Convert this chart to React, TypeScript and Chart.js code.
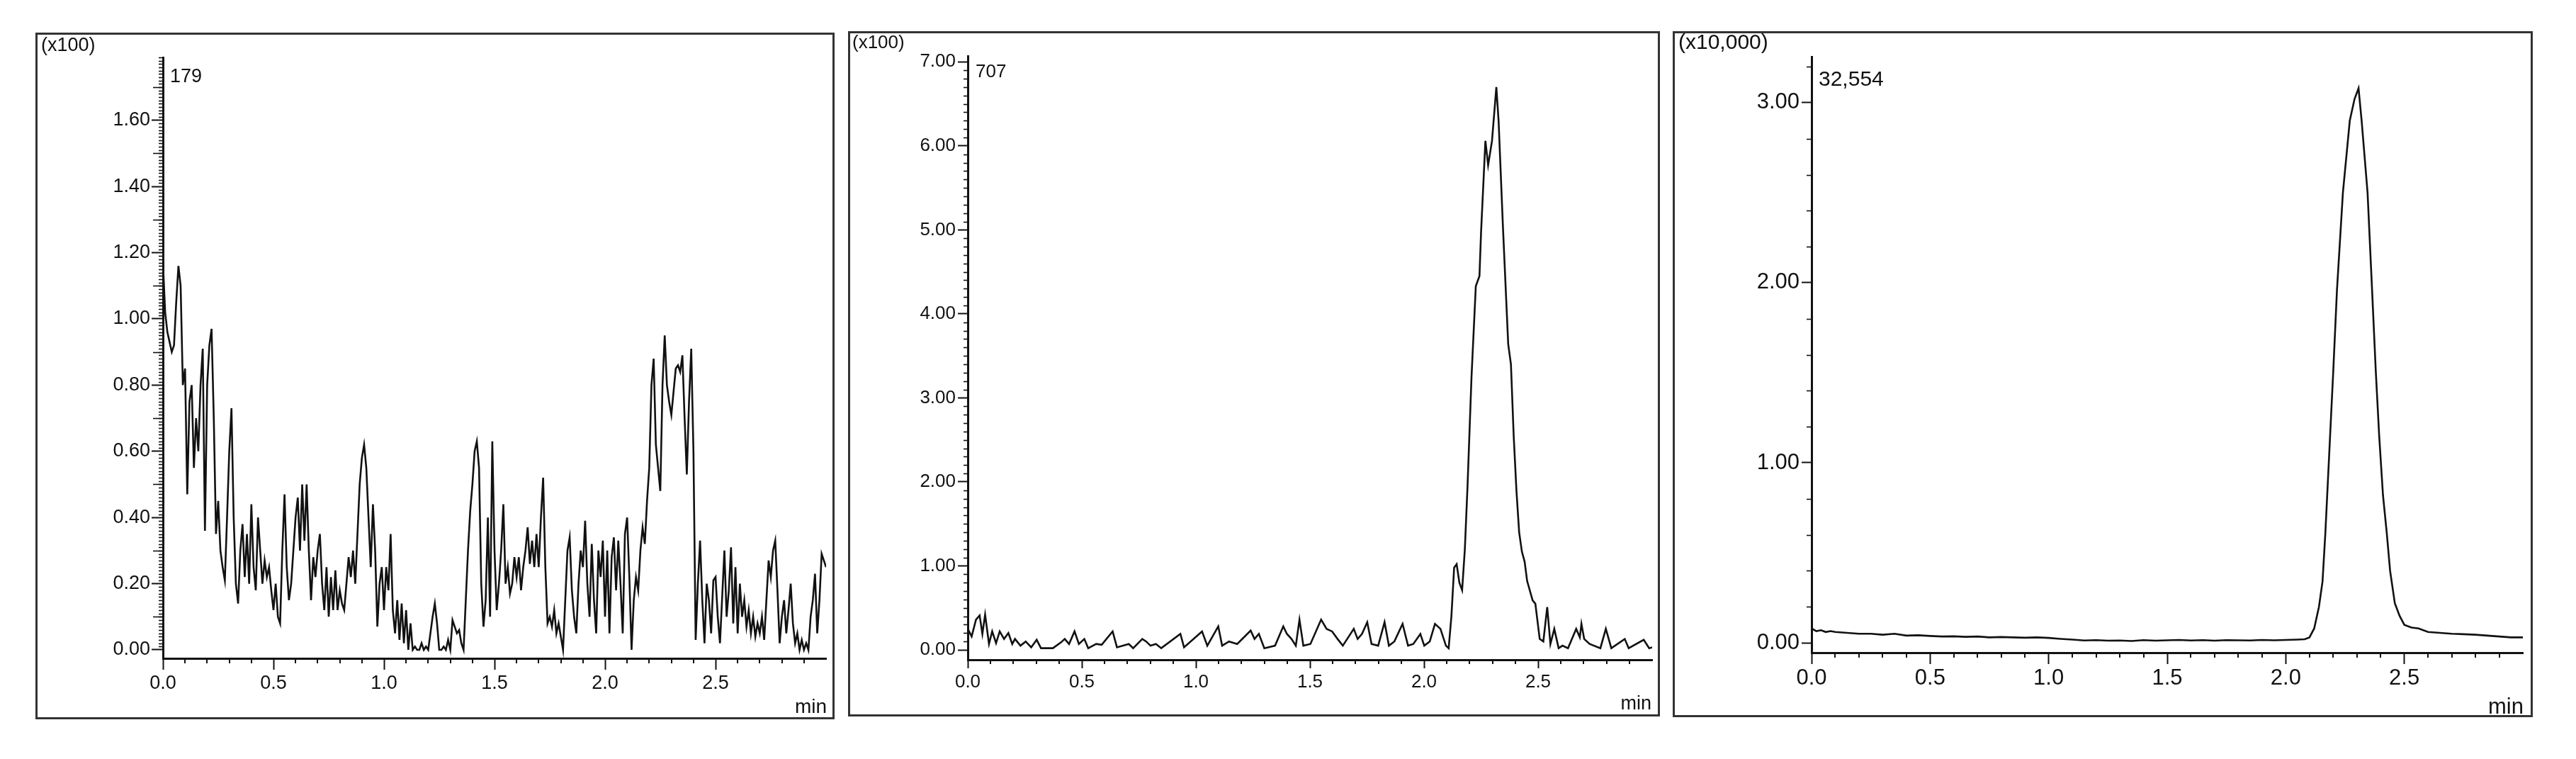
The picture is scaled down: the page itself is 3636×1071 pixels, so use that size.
import React, { useEffect, useRef } from "react";
import { Chart, registerables } from "chart.js";

Chart.register(...registerables);

const FONT = '"Liberation Sans", Arial, Helvetica, sans-serif';
const INK = "#111111";
const FRAME = "#333333";

// ---------- shared axis ticks ----------
const X_TICKS = [0, 0.5, 1.0, 1.5, 2.0, 2.5];

// ---------- panel 1 (x100), max 179 ----------
const P1_SCALE_LABEL = "(x100)";
const P1_MAX_LABEL = "179";
const P1_Y_TICKS = [0, 0.2, 0.4, 0.6, 0.8, 1.0, 1.2, 1.4, 1.6];
const P1_STEP_MIN = 0.01;
const P1_VALUES = [
  1.17, 1.02, 0.96, 0.93, 0.90, 0.92, 1.05, 1.16, 1.10, 0.80,
  0.85, 0.47, 0.75, 0.80, 0.55, 0.70, 0.60, 0.80, 0.91, 0.36,
  0.80, 0.92, 0.97, 0.70, 0.35, 0.45, 0.30, 0.25, 0.21, 0.40,
  0.60, 0.73, 0.40, 0.20, 0.14, 0.30, 0.38, 0.22, 0.35, 0.20,
  0.44, 0.25, 0.18, 0.40, 0.30, 0.20, 0.27, 0.22, 0.25, 0.18,
  0.12, 0.20, 0.10, 0.08, 0.30, 0.47, 0.25, 0.15, 0.20, 0.30,
  0.40, 0.46, 0.30, 0.50, 0.33, 0.50, 0.30, 0.15, 0.28, 0.22,
  0.30, 0.35, 0.20, 0.12, 0.25, 0.10, 0.22, 0.12, 0.24, 0.12,
  0.18, 0.14, 0.12, 0.20, 0.28, 0.22, 0.30, 0.20, 0.35, 0.50,
  0.58, 0.62, 0.55, 0.40, 0.25, 0.44, 0.30, 0.07, 0.20, 0.25,
  0.12, 0.25, 0.18, 0.35, 0.12, 0.05, 0.15, 0.03, 0.14, 0.02,
  0.12, 0.00, 0.08, 0.00, 0.01, 0.00, 0.00, 0.02, 0.00, 0.01,
  0.00, 0.05, 0.10, 0.14, 0.08, 0.00, 0.00, 0.01, 0.00, 0.03,
  0.00, 0.09, 0.07, 0.05, 0.06, 0.02, 0.00, 0.15, 0.30, 0.42,
  0.50, 0.60, 0.63, 0.55, 0.20, 0.07, 0.15, 0.40, 0.10, 0.63,
  0.30, 0.12, 0.20, 0.30, 0.44, 0.20, 0.25, 0.17, 0.20, 0.28,
  0.22, 0.28, 0.18, 0.25, 0.30, 0.37, 0.26, 0.33, 0.25, 0.35,
  0.25, 0.40, 0.52, 0.25, 0.08, 0.10, 0.07, 0.12, 0.05, 0.08,
  0.04, 0.00, 0.15, 0.30, 0.34, 0.18, 0.10, 0.05, 0.20, 0.30,
  0.25, 0.39, 0.20, 0.10, 0.32, 0.15, 0.05, 0.30, 0.22, 0.33,
  0.10, 0.30, 0.05, 0.28, 0.34, 0.18, 0.33, 0.20, 0.05, 0.35,
  0.40, 0.22, 0.00, 0.15, 0.22, 0.18, 0.30, 0.37, 0.32, 0.45,
  0.55, 0.80, 0.88, 0.62, 0.55, 0.48, 0.80, 0.95, 0.80, 0.75,
  0.71, 0.78, 0.85, 0.86, 0.84, 0.89, 0.70, 0.53, 0.75, 0.91,
  0.60, 0.03, 0.20, 0.33, 0.15, 0.02, 0.20, 0.15, 0.05, 0.21,
  0.22, 0.10, 0.02, 0.16, 0.30, 0.10, 0.18, 0.31, 0.08, 0.25,
  0.05, 0.20, 0.10, 0.15, 0.07, 0.12, 0.05, 0.10, 0.04, 0.08,
  0.05, 0.10, 0.03, 0.15, 0.27, 0.22, 0.30, 0.33, 0.18, 0.02,
  0.10, 0.15, 0.05, 0.12, 0.20, 0.08, 0.02, 0.05, 0.00, 0.03,
  0.00, 0.02, 0.00, 0.10, 0.15, 0.23, 0.05, 0.15, 0.29, 0.27, 0.25,
];
const P1_TIMES = P1_VALUES.map((_, i) => Math.round(i * P1_STEP_MIN * 100) / 100);

// ---------- panel 2 (x100), max 707 ----------
const P2_SCALE_LABEL = "(x100)";
const P2_MAX_LABEL = "707";
const P2_Y_TICKS = [0, 1, 2, 3, 4, 5, 6, 7];
const P2_TIMES = [
  0.000, 0.017, 0.036, 0.052, 0.064, 0.076, 0.093, 0.107, 0.124, 0.140,
  0.159, 0.178, 0.195, 0.207, 0.231, 0.254, 0.278, 0.302, 0.321, 0.373,
  0.409, 0.425, 0.444, 0.468, 0.487, 0.511, 0.528, 0.563, 0.587, 0.635,
  0.654, 0.706, 0.725, 0.765, 0.782, 0.801, 0.825, 0.848, 0.932, 0.948,
  1.027, 1.050, 1.098, 1.115, 1.145, 1.181, 1.240, 1.257, 1.276, 1.300,
  1.347, 1.383, 1.399, 1.419, 1.438, 1.454, 1.471, 1.502, 1.549, 1.573,
  1.597, 1.621, 1.644, 1.692, 1.709, 1.728, 1.751, 1.770, 1.799, 1.827,
  1.846, 1.870, 1.906, 1.930, 1.953, 1.984, 2.001, 2.025, 2.048, 2.072,
  2.096, 2.108,
  2.120, 2.132, 2.143, 2.155, 2.167, 2.179, 2.191, 2.208, 2.227, 2.243,
  2.250, 2.269, 2.281, 2.298, 2.317, 2.327, 2.346, 2.369, 2.381, 2.393,
  2.405, 2.417, 2.429, 2.441, 2.452, 2.476, 2.488, 2.507, 2.523, 2.540,
  2.554, 2.571, 2.590, 2.607, 2.631, 2.667, 2.683, 2.690, 2.702, 2.726,
  2.773, 2.797, 2.821, 2.880, 2.897, 2.963, 2.987, 3.000,
];
const P2_VALUES = [
  0.25, 0.16, 0.36, 0.41, 0.19, 0.42, 0.07, 0.22, 0.08, 0.22,
  0.13, 0.20, 0.07, 0.13, 0.05, 0.10, 0.03, 0.12, 0.02, 0.02,
  0.09, 0.13, 0.07, 0.22, 0.07, 0.13, 0.02, 0.07, 0.06, 0.22,
  0.03, 0.07, 0.02, 0.13, 0.10, 0.05, 0.07, 0.02, 0.19, 0.03,
  0.22, 0.05, 0.28, 0.05, 0.10, 0.07, 0.23, 0.13, 0.19, 0.02,
  0.05, 0.28, 0.19, 0.13, 0.05, 0.36, 0.05, 0.07, 0.36, 0.25,
  0.22, 0.13, 0.05, 0.25, 0.13, 0.19, 0.33, 0.07, 0.05, 0.33,
  0.05, 0.10, 0.31, 0.05, 0.07, 0.19, 0.05, 0.10, 0.31, 0.25,
  0.05, 0.02,
  0.40, 0.98, 1.02, 0.80, 0.71, 1.20, 1.97, 3.24, 4.33, 4.45,
  4.97, 6.06, 5.77, 6.06, 6.70, 6.29, 5.03, 3.64, 3.40, 2.55,
  1.90, 1.40, 1.17, 1.05, 0.82, 0.59, 0.55, 0.13, 0.10, 0.51,
  0.07, 0.25, 0.02, 0.05, 0.02, 0.25, 0.15, 0.31, 0.13, 0.07,
  0.02, 0.25, 0.02, 0.13, 0.02, 0.12, 0.02, 0.03,
];

// ---------- panel 3 (x10,000), max 32,554 ----------
const P3_SCALE_LABEL = "(x10,000)";
const P3_MAX_LABEL = "32,554";
const P3_Y_TICKS = [0, 1, 2, 3];
const P3_TIMES = [
  0.00, 0.02, 0.04, 0.06, 0.08, 0.10,
  0.15, 0.20, 0.25, 0.30, 0.35, 0.40, 0.45, 0.50, 0.55, 0.60,
  0.65, 0.70, 0.75, 0.80, 0.85, 0.90, 0.95, 1.00, 1.05, 1.10,
  1.15, 1.20, 1.25, 1.30, 1.35, 1.40, 1.45, 1.50, 1.55, 1.60,
  1.65, 1.70, 1.75, 1.80, 1.85, 1.90, 1.95, 2.00, 2.05,
  2.08, 2.10, 2.12, 2.14, 2.155, 2.167, 2.187, 2.20, 2.216, 2.241,
  2.27, 2.29, 2.307, 2.32, 2.345, 2.364, 2.38, 2.394, 2.41, 2.426,
  2.44, 2.46, 2.48, 2.50, 2.53, 2.56,
  2.60, 2.65, 2.70, 2.75, 2.80, 2.85, 2.90, 2.95, 3.00,
];
const P3_VALUES = [
  0.08, 0.065, 0.07, 0.06, 0.065, 0.06,
  0.055, 0.05, 0.05, 0.045, 0.05, 0.04, 0.042, 0.038, 0.035, 0.036,
  0.033, 0.035, 0.03, 0.032, 0.03, 0.028, 0.03, 0.027, 0.022, 0.018,
  0.013, 0.015, 0.012, 0.013, 0.01, 0.015, 0.012, 0.014, 0.016, 0.013,
  0.015, 0.012, 0.015, 0.014, 0.013, 0.016, 0.014, 0.016, 0.018,
  0.02, 0.03, 0.08, 0.20, 0.34, 0.61, 1.15, 1.50, 1.96, 2.50,
  2.90, 3.02, 3.08, 2.90, 2.50, 1.96, 1.50, 1.15, 0.82, 0.61,
  0.40, 0.22, 0.15, 0.10, 0.085, 0.08,
  0.06, 0.055, 0.05, 0.048, 0.045, 0.04, 0.035, 0.03, 0.03,
];

const X_UNIT = "min";

// ---------- layout / style per panel (no data here) ----------
type Minor = { step: number; len: number };
type PanelCfg = {
  times: number[];
  values: number[];
  yTicks: number[];
  scaleLabel: string;
  maxLabel: string;
  frame: { left: number; top: number; width: number; height: number };
  area: { left: number; top: number; padRight: number; bottom: number };
  yMin: number;
  yMax: number;
  xMax: number;
  tickFont: number;
  annFont: number;
  minFont: number;
  xTickLen: number;
  xTickPad: number;
  yTickLen: number;
  yTickPad: number;
  xMinor: Minor[];
  yMinor: Minor[];
  scaleLabelPos: { x: number; y: number };
  maxLabelPos: { dx: number; y: number };
  minPos: { x: number; y: number };
};

const PANELS: PanelCfg[] = [
  {
    times: P1_TIMES,
    values: P1_VALUES,
    yTicks: P1_Y_TICKS,
    scaleLabel: P1_SCALE_LABEL,
    maxLabel: P1_MAX_LABEL,
    frame: { left: 50, top: 46, width: 1128, height: 969 },
    area: { left: 180, top: 35, padRight: 12, bottom: 883 },
    yMin: -0.0257,
    yMax: 1.79,
    xMax: 3.0,
    tickFont: 27,
    annFont: 27,
    minFont: 28,
    xTickLen: 16,
    xTickPad: 3,
    yTickLen: 16,
    yTickPad: 2,
    xMinor: [{ step: 0.1, len: 7 }],
    yMinor: [
      { step: 0.01, len: 6 },
      { step: 0.1, len: 14 },
    ],
    scaleLabelPos: { x: 8, y: 19 },
    maxLabelPos: { dx: 10, y: 63 },
    minPos: { x: 1117, y: 952 },
  },
  {
    times: P2_TIMES,
    values: P2_VALUES,
    yTicks: P2_Y_TICKS,
    scaleLabel: P2_SCALE_LABEL,
    maxLabel: P2_MAX_LABEL,
    frame: { left: 1197, top: 44, width: 1146, height: 967 },
    area: { left: 169, top: 35, padRight: 11, bottom: 887 },
    yMin: -0.118,
    yMax: 7.07,
    xMax: 3.0,
    tickFont: 26,
    annFont: 26,
    minFont: 27,
    xTickLen: 12,
    xTickPad: 4,
    yTickLen: 14,
    yTickPad: 3,
    xMinor: [{ step: 0.1, len: 6 }],
    yMinor: [{ step: 0.1, len: 6 }],
    scaleLabelPos: { x: 6, y: 17 },
    maxLabelPos: { dx: 11, y: 58 },
    minPos: { x: 1134, y: 950 },
  },
  {
    times: P3_TIMES,
    values: P3_VALUES,
    yTicks: P3_Y_TICKS,
    scaleLabel: P3_SCALE_LABEL,
    maxLabel: P3_MAX_LABEL,
    frame: { left: 2361, top: 44, width: 1214, height: 968 },
    area: { left: 196, top: 36, padRight: 14, bottom: 877 },
    yMin: -0.055,
    yMax: 3.2554,
    xMax: 3.0,
    tickFont: 31,
    annFont: 30,
    minFont: 31,
    xTickLen: 16,
    xTickPad: 2,
    yTickLen: 14,
    yTickPad: 3,
    xMinor: [{ step: 0.1, len: 7 }],
    yMinor: [{ step: 0.2, len: 7 }],
    scaleLabelPos: { x: 8, y: 17 },
    maxLabelPos: { dx: 10, y: 69 },
    minPos: { x: 1201, y: 954 },
  },
];

function isMajor(v: number, majors: number[]) {
  return majors.some((m) => Math.abs(m - v) < 1e-6);
}

function makePlugin(cfg: PanelCfg) {
  return {
    id: "chromFrame",
    beforeDraw(chart: any) {
      const { ctx, width, height } = chart;
      ctx.save();
      ctx.fillStyle = "#ffffff";
      ctx.fillRect(0, 0, width, height);
      ctx.restore();
    },
    afterDraw(chart: any) {
      const { ctx, width, height, chartArea } = chart;
      const xs = chart.scales.x;
      const ys = chart.scales.y;
      ctx.save();
      // frame
      ctx.strokeStyle = FRAME;
      ctx.lineWidth = 3;
      ctx.strokeRect(1.5, 1.5, width - 3, height - 3);

      // minor ticks on x
      ctx.strokeStyle = INK;
      ctx.lineWidth = 2;
      cfg.xMinor.forEach((m) => {
        const n = Math.floor(cfg.xMax / m.step + 1e-6);
        for (let k = 1; k <= n; k++) {
          const v = k * m.step;
          if (isMajor(v, X_TICKS) || v >= cfg.xMax - 1e-6) continue;
          const px = Math.round(xs.getPixelForValue(v));
          ctx.beginPath();
          ctx.moveTo(px, chartArea.bottom);
          ctx.lineTo(px, chartArea.bottom + m.len);
          ctx.stroke();
        }
      });
      // minor ticks on y
      ctx.lineWidth = 1.6;
      cfg.yMinor.forEach((m) => {
        const n = Math.floor(cfg.yMax / m.step + 1e-6);
        for (let k = 1; k <= n; k++) {
          const v = k * m.step;
          if (isMajor(v, cfg.yTicks)) continue;
          const py = Math.round(ys.getPixelForValue(v)) + 0.5;
          ctx.beginPath();
          ctx.moveTo(chartArea.left - m.len, py);
          ctx.lineTo(chartArea.left, py);
          ctx.stroke();
        }
      });

      // annotations
      ctx.fillStyle = INK;
      ctx.textBaseline = "middle";
      ctx.font = `${cfg.annFont}px ${FONT}`;
      ctx.textAlign = "left";
      ctx.fillText(cfg.scaleLabel, cfg.scaleLabelPos.x, cfg.scaleLabelPos.y);
      ctx.fillText(cfg.maxLabel, chartArea.left + cfg.maxLabelPos.dx, cfg.maxLabelPos.y);
      ctx.font = `${cfg.minFont}px ${FONT}`;
      ctx.textAlign = "right";
      ctx.fillText(X_UNIT, cfg.minPos.x, cfg.minPos.y);
      ctx.restore();
    },
  };
}

function Panel({ cfg }: { cfg: PanelCfg }) {
  const ref = useRef<HTMLCanvasElement | null>(null);

  useEffect(() => {
    const canvas = ref.current;
    if (!canvas) return;
    const points = cfg.times.map((t, i) => ({ x: t, y: cfg.values[i] }));
    const chart = new Chart(canvas, {
      type: "line",
      data: {
        datasets: [
          {
            data: points,
            borderColor: INK,
            borderWidth: 2.6,
            pointRadius: 0,
            tension: 0,
            fill: false,
          },
        ],
      },
      options: {
        animation: false,
        responsive: false,
        devicePixelRatio: 1,
        events: [],
        layout: {
          padding: { left: 0, top: cfg.area.top, right: cfg.area.padRight, bottom: 0 },
        },
        plugins: {
          legend: { display: false },
          tooltip: { enabled: false },
          title: { display: false },
        },
        scales: {
          x: {
            type: "linear",
            position: "bottom",
            min: 0,
            max: cfg.xMax,
            afterBuildTicks: (scale: any) => {
              scale.ticks = X_TICKS.map((v) => ({ value: v }));
            },
            afterFit: (scale: any) => {
              scale.height = cfg.frame.height - cfg.area.bottom;
            },
            ticks: {
              autoSkip: false,
              maxRotation: 0,
              minRotation: 0,
              padding: cfg.xTickPad,
              color: INK,
              font: { family: FONT, size: cfg.tickFont },
              callback: (v: any) => Number(v).toFixed(1),
            },
            grid: {
              display: true,
              drawOnChartArea: false,
              drawTicks: true,
              tickLength: cfg.xTickLen,
              tickWidth: 2,
              tickColor: INK,
              color: INK,
            },
            border: { display: true, color: INK, width: 3 },
          },
          y: {
            type: "linear",
            position: "left",
            min: cfg.yMin,
            max: cfg.yMax,
            afterBuildTicks: (scale: any) => {
              scale.ticks = cfg.yTicks.map((v) => ({ value: v }));
            },
            afterFit: (scale: any) => {
              scale.width = cfg.area.left;
            },
            ticks: {
              autoSkip: false,
              padding: cfg.yTickPad,
              color: INK,
              font: { family: FONT, size: cfg.tickFont },
              callback: (v: any) => Number(v).toFixed(2),
            },
            grid: {
              display: true,
              drawOnChartArea: false,
              drawTicks: true,
              tickLength: cfg.yTickLen,
              tickWidth: 2,
              tickColor: INK,
              color: INK,
            },
            border: { display: true, color: INK, width: 3 },
          },
        },
      },
      plugins: [makePlugin(cfg)],
    } as any);
    return () => chart.destroy();
  }, [cfg]);

  return (
    <canvas
      ref={ref}
      width={cfg.frame.width}
      height={cfg.frame.height}
      style={{
        position: "absolute",
        left: cfg.frame.left,
        top: cfg.frame.top,
        width: cfg.frame.width,
        height: cfg.frame.height,
      }}
    />
  );
}

export default function App() {
  return (
    <div
      style={{
        position: "absolute",
        left: 0,
        top: 0,
        width: 3636,
        height: 1071,
        background: "#ffffff",
        overflow: "hidden",
      }}
    >
      {PANELS.map((cfg, i) => (
        <Panel key={i} cfg={cfg} />
      ))}
    </div>
  );
}
